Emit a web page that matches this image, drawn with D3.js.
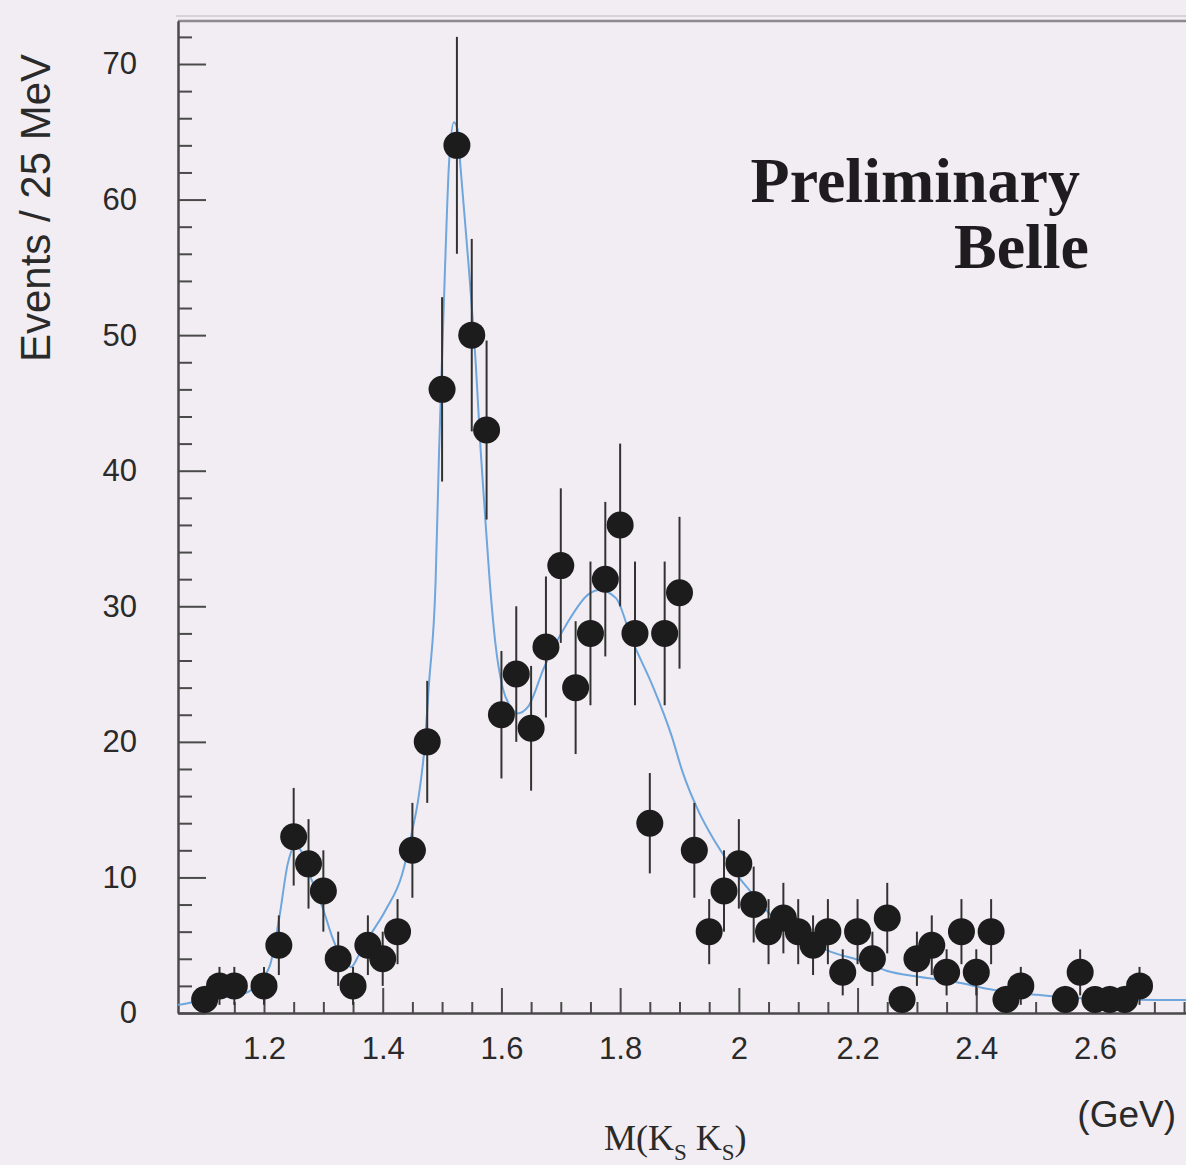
<!DOCTYPE html>
<html>
<head>
<meta charset="utf-8">
<title>M(KsKs) Belle preliminary</title>
<script src="https://cdn.jsdelivr.net/npm/d3@7"></script>
<style>
  html, body { margin: 0; padding: 0; background: #f2edf2; }
  svg { display: block; }
  .tick text { font-family: "Liberation Sans", Arial, sans-serif; font-size: 31px; fill: #2a2a2a; }
  .axis path, .axis line { stroke: #4a4a4a; stroke-width: 2; }
</style>
</head>
<body>
<div id="chart"></div>
<script>
// bin centres (GeV), 25 MeV bins; empty bins are not drawn
var massBins = [1.100, 1.125, 1.150, 1.200, 1.225, 1.250, 1.275, 1.300, 1.325, 1.350,
                1.375, 1.400, 1.425, 1.450, 1.475, 1.500, 1.525, 1.550, 1.575, 1.600,
                1.625, 1.650, 1.675, 1.700, 1.725, 1.750, 1.775, 1.800, 1.825, 1.850,
                1.875, 1.900, 1.925, 1.950, 1.975, 2.000, 2.025, 2.050, 2.075, 2.100,
                2.125, 2.150, 2.175, 2.200, 2.225, 2.250, 2.275, 2.300, 2.325, 2.350,
                2.375, 2.400, 2.425, 2.450, 2.475, 2.550, 2.575, 2.600, 2.625, 2.650,
                2.675];
var events = [1, 2, 2, 2, 5, 13, 11, 9, 4, 2,
              5, 4, 6, 12, 20, 46, 64, 50, 43, 22,
              25, 21, 27, 33, 24, 28, 32, 36, 28, 14,
              28, 31, 12, 6, 9, 11, 8, 6, 7, 6,
              5, 6, 3, 6, 4, 7, 1, 4, 5, 3,
              6, 3, 6, 1, 2, 1, 3, 1, 1, 1,
              2];
var errors = [1, 1.4, 1.4, 1.4, 2.2, 3.6, 3.3, 3, 2, 1.4,
              2.2, 2, 2.4, 3.5, 4.5, 6.8, 8, 7.1, 6.6, 4.7,
              5, 4.6, 5.2, 5.7, 4.9, 5.3, 5.7, 6, 5.3, 3.7,
              5.3, 5.6, 3.5, 2.4, 3, 3.3, 2.8, 2.4, 2.6, 2.4,
              2.2, 2.4, 1.7, 2.4, 2, 2.6, 1, 2, 2.2, 1.7,
              2.4, 1.7, 2.4, 1, 1.4, 1, 1.7, 1, 1, 1,
              1.4];

// fit curve
var fitMass = [1.055, 1.080, 1.100, 1.125, 1.150, 1.175, 1.190, 1.200, 1.210, 1.226,
               1.240, 1.252, 1.262, 1.276, 1.2985, 1.315, 1.3325, 1.347, 1.360, 1.377,
               1.405, 1.4325, 1.450, 1.460, 1.470, 1.478, 1.489, 1.495, 1.4995, 1.505,
               1.512, 1.520, 1.526, 1.531, 1.545, 1.557, 1.565, 1.572, 1.580, 1.590,
               1.602, 1.615, 1.627, 1.645, 1.672, 1.710, 1.747, 1.765, 1.793, 1.820,
               1.854, 1.887, 1.905, 1.933, 1.955, 1.972, 2.000, 2.017, 2.050, 2.100,
               2.150, 2.210, 2.250, 2.300, 2.363, 2.430, 2.500, 2.567, 2.650, 2.760];
var fitEvents = [0.6, 0.8, 1.0, 1.1, 1.3, 1.6, 2.2, 2.7, 3.5, 7.1,
                 11.0, 12.3, 12.0, 10.3, 7.8, 5.6, 3.9, 3.4, 4.3, 5.6,
                 7.6, 10.2, 13.5, 15.8, 19.4, 24.3, 31.7, 41.5, 47.7, 55,
                 62.9, 65.7, 65.2, 62.4, 55, 47.7, 41.5, 37, 32, 27.2,
                 24, 22.6, 22.1, 22.6, 25.5, 28.7, 30.9, 31.2, 30.6, 27.5,
                 24.2, 20.4, 17.8, 14.8, 13.0, 11.8, 10.0, 9.1, 7.4, 5.8,
                 4.6, 3.8, 3.1, 2.7, 2.3, 1.7, 1.35, 1.1, 1.0, 0.95];

var xMajorTicks = [1.2, 1.4, 1.6, 1.8, 2.0, 2.2, 2.4, 2.6];
var xTickLabels = ["1.2", "1.4", "1.6", "1.8", "2", "2.2", "2.4", "2.6"];
var yMajorTicks = [0, 10, 20, 30, 40, 50, 60, 70];

var W = 1186, H = 1165;
var LEFT = 178, TOP = 21, BOTTOM = 1013, RIGHT = 1200;

var svg = d3.select("#chart").append("svg")
    .attr("width", W).attr("height", H);

// x: 1.2 -> 264px, 2.6 -> 1095px, then stretched to the frame
var x = d3.scaleLinear().domain([1.2, 2.6]).range([264, 1095]);
x.domain([x.invert(LEFT), x.invert(RIGHT)]).range([LEFT, RIGHT]);
var y = d3.scaleLinear().domain([0, 70]).range([BOTTOM, 64]);
y.domain([0, y.invert(TOP)]).range([BOTTOM, TOP]);

var xMinor = d3.range(1.1, 2.76, 0.05).filter(function(v) {
    return xMajorTicks.every(function(m) { return Math.abs(m - v) > 1e-6; });
});
var yMinor = d3.range(0, 73, 2).filter(function(v) { return v % 10 !== 0; });

// frame top
svg.append("line")
    .attr("x1", LEFT - 2).attr("x2", W).attr("y1", TOP - 5).attr("y2", TOP - 5)
    .attr("stroke", "#d6d2d6").attr("stroke-width", 2);
svg.append("line")
    .attr("x1", LEFT).attr("x2", W).attr("y1", TOP).attr("y2", TOP)
    .attr("stroke", "#8d898d").attr("stroke-width", 2.5);

// axes, ticks pointing inwards
svg.append("g").attr("class", "axis")
    .attr("transform", "translate(0," + BOTTOM + ")")
    .call(d3.axisBottom(x).tickValues(xMinor).tickSize(-11).tickSizeOuter(0).tickFormat(""));
svg.append("g").attr("class", "axis")
    .attr("transform", "translate(0," + BOTTOM + ")")
    .call(d3.axisBottom(x).tickValues(xMajorTicks).tickSize(-25).tickSizeOuter(0)
        .tickPadding(24)
        .tickFormat(function(d, i) { return xTickLabels[i]; }));

svg.append("g").attr("class", "axis")
    .attr("transform", "translate(" + LEFT + ",0)")
    .call(d3.axisLeft(y).tickValues(yMinor).tickSize(-14).tickSizeOuter(0).tickFormat(""));
svg.append("g").attr("class", "axis")
    .attr("transform", "translate(" + LEFT + ",0)")
    .call(d3.axisLeft(y).tickValues(yMajorTicks).tickSize(-28).tickSizeOuter(0)
        .tickPadding(41).tickFormat(d3.format("d")));

// fit curve
svg.append("clipPath").attr("id", "plotclip")
  .append("rect").attr("x", LEFT).attr("y", TOP).attr("width", RIGHT - LEFT).attr("height", BOTTOM - TOP);

var fit = fitMass.map(function(m, i) { return [m, fitEvents[i]]; });
svg.append("path")
    .datum(fit)
    .attr("clip-path", "url(#plotclip)")
    .attr("fill", "none")
    .attr("stroke", "#6ea6de")
    .attr("stroke-width", 2)
    .attr("d", d3.line()
        .x(function(d) { return x(d[0]); })
        .y(function(d) { return y(d[1]); })
        .curve(d3.curveMonotoneX));

// data points with error bars
var defs = svg.append("defs");
defs.append("filter").attr("id", "soft")
  .append("feGaussianBlur").attr("stdDeviation", 0.7);

var pts = massBins.map(function(m, i) { return { m: m, n: events[i], e: errors[i] }; });

var g = svg.append("g").attr("filter", "url(#soft)");
g.selectAll("line.err").data(pts).enter().append("line")
    .attr("class", "err")
    .attr("x1", function(d) { return x(d.m); })
    .attr("x2", function(d) { return x(d.m); })
    .attr("y1", function(d) { return y(d.n + d.e); })
    .attr("y2", function(d) { return y(Math.max(0, d.n - d.e)); })
    .attr("stroke", "#333")
    .attr("stroke-width", 2);
g.selectAll("circle").data(pts).enter().append("circle")
    .attr("cx", function(d) { return x(d.m); })
    .attr("cy", function(d) { return y(d.n); })
    .attr("r", 13.5)
    .attr("fill", "#1d1b1d");

// labels
svg.append("text")
    .attr("transform", "translate(50," + 208 + ") rotate(-90)")
    .attr("text-anchor", "middle")
    .style("font-family", "'Liberation Sans', Arial, sans-serif")
    .style("font-size", "42px")
    .style("fill", "#2a2a2a")
    .text("Events / 25 MeV");

svg.append("text")
    .attr("x", 1176).attr("y", 1127)
    .attr("text-anchor", "end")
    .style("font-family", "'Liberation Sans', Arial, sans-serif")
    .style("font-size", "37px")
    .style("fill", "#2a2a2a")
    .text("(GeV)");

var mk = svg.append("text")
    .attr("x", 604).attr("y", 1150)
    .style("font-family", "'Liberation Serif', 'Times New Roman', serif")
    .style("font-size", "36px")
    .style("fill", "#2a2a2a");
mk.append("tspan").text("M(K");
mk.append("tspan").attr("dy", 10).style("font-size", "23px").text("S");
mk.append("tspan").attr("dy", -10).text(" K");
mk.append("tspan").attr("dy", 10).style("font-size", "23px").text("S");
mk.append("tspan").attr("dy", -10).text(")");

svg.append("text")
    .attr("x", 1080).attr("y", 202)
    .attr("text-anchor", "end")
    .style("font-family", "'Liberation Serif', 'Times New Roman', serif")
    .style("font-weight", "bold")
    .style("font-size", "64px")
    .style("fill", "#1e1c1e")
    .text("Preliminary");
svg.append("text")
    .attr("x", 1089).attr("y", 268)
    .attr("text-anchor", "end")
    .style("font-family", "'Liberation Serif', 'Times New Roman', serif")
    .style("font-weight", "bold")
    .style("font-size", "64px")
    .style("fill", "#1e1c1e")
    .text("Belle");
</script>
</body>
</html>
